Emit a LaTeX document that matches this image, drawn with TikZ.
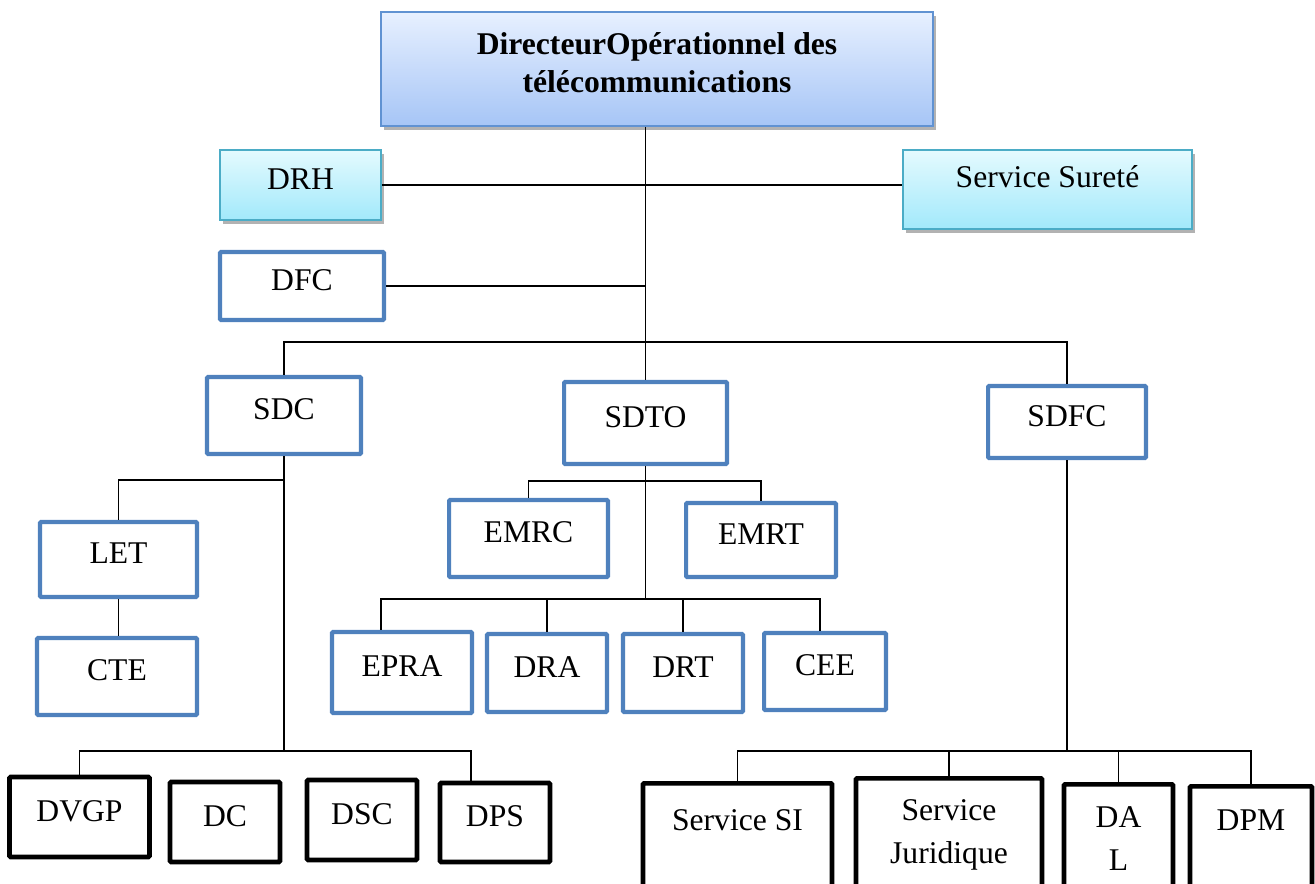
\documentclass[tikz,border=0pt]{standalone}
\usepackage{fontspec}
\setmainfont{Liberation Serif}
\usetikzlibrary{positioning}
\usetikzlibrary{calc}
\usetikzlibrary{shadows}

\definecolor{dirtop}{RGB}{231,240,255}
\definecolor{dirbot}{RGB}{166,197,246}
\definecolor{dirline}{RGB}{96,146,210}
\definecolor{cyantop}{RGB}{228,250,254}
\definecolor{cyanbot}{RGB}{162,233,251}
\definecolor{cyanline}{RGB}{75,172,198}
\definecolor{unitblue}{RGB}{79,129,189}

\begin{document}
\begin{tikzpicture}[x=0.02cm, y=-0.02cm,
    txt/.style={font=\fontsize{18}{24.5}\selectfont, align=center, inner sep=0pt, text height=12pt, text depth=7pt},
    softshadow/.style={drop shadow={shadow xshift=1.5pt, shadow yshift=-2.5pt, fill=black, opacity=0.3}},
    headbox/.style={txt, font=\fontsize{18}{22}\selectfont\bfseries, rectangle, draw=dirline, line width=0.9pt, top color=dirtop, bottom color=dirbot, softshadow},
    staffbox/.style={txt, rectangle, draw=cyanline, line width=0.9pt, top color=cyantop, bottom color=cyanbot, softshadow},
    unitbox/.style={txt, rectangle, draw=unitblue, fill=white, line width=2.3pt, rounded corners=0.6pt},
    basebox/.style={txt, rectangle, draw=black, fill=white, line width=2.6pt, rounded corners=0.6pt},
    cutbox/.style={basebox, anchor=north},
    conn/.style={draw=black, line width=0.8pt}
]
    \clip (0,0) rectangle (1315,884);

    % Direction
    \node[headbox, minimum width=11.04cm, minimum height=2.28cm, text height=34pt] (DOT) at (657,69) {DirecteurOpérationnel des\\télécommunications};
    \node[staffbox, minimum width=3.22cm, minimum height=1.4cm] (DRH) at (300.5,185) {DRH};
    \node[staffbox, minimum width=5.78cm, minimum height=1.58cm, text depth=14pt] (SUR) at (1047.5,189.5) {Service Sureté};
    \node[unitbox, minimum width=3.28cm, minimum height=1.36cm] (DFC) at (302,286) {DFC};

    % Sous-directions
    \node[unitbox, minimum width=3.08cm, minimum height=1.54cm] (SDC) at (284,415.5) {SDC};
    \node[unitbox, minimum width=3.26cm, minimum height=1.64cm] (SDTO) at (645.5,423) {SDTO};
    \node[unitbox, minimum width=3.16cm, minimum height=1.44cm] (SDFC) at (1067,422) {SDFC};

    % Branche SDC
    \node[unitbox, minimum width=3.14cm, minimum height=1.5cm] (LET) at (118.5,559.5) {LET};
    \node[unitbox, minimum width=3.2cm, minimum height=1.54cm] (CTE) at (117,676.5) {CTE};
    \node[basebox, minimum width=2.8cm, minimum height=1.6cm] (DVGP) at (79.5,817) {DVGP};
    \node[basebox, minimum width=2.2cm, minimum height=1.6cm] (DC) at (225,822) {DC};
    \node[basebox, minimum width=2.2cm, minimum height=1.6cm] (DSC) at (362,820) {DSC};
    \node[basebox, minimum width=2.2cm, minimum height=1.58cm] (DPS) at (495,822.5) {DPS};

    % Branche SDTO
    \node[unitbox, minimum width=3.18cm, minimum height=1.54cm] (EMRC) at (528.5,538.5) {EMRC};
    \node[unitbox, minimum width=3.0cm, minimum height=1.48cm] (EMRT) at (761,540) {EMRT};
    \node[unitbox, minimum width=2.8cm, minimum height=1.62cm] (EPRA) at (402,672.5) {EPRA};
    \node[unitbox, minimum width=2.4cm, minimum height=1.56cm] (DRA) at (547,673) {DRA};
    \node[unitbox, minimum width=2.4cm, minimum height=1.56cm] (DRT) at (683,673) {DRT};
    \node[unitbox, minimum width=2.44cm, minimum height=1.54cm] (CEE) at (825,671.5) {CEE};

    % Branche SDFC
    \node[cutbox, minimum width=3.78cm, text height=0.94cm, text depth=2.04cm] (SSI) at (737.5,781) {Service SI};
    \node[cutbox, minimum width=3.72cm, text height=1.7cm, text depth=1.38cm] (SJU) at (949,776) {Service\\Juridique};
    \node[cutbox, minimum width=2.18cm, text height=1.72cm, text depth=1.24cm] (DAL) at (1118.5,782) {DA\\L};
    \node[cutbox, minimum width=2.44cm, text height=0.88cm, text depth=2.04cm] (DPM) at (1251,784) {DPM};

    % Liaisons
    \coordinate (bus) at (645.5,342);
    \coordinate (letj) at (284,480);
    \coordinate (busL) at (284,751);
    \coordinate (dpsdrop) at (471,751);
    \coordinate (emj) at (645.5,481);
    \coordinate (busM) at (645.5,599);
    \coordinate (epradrop) at (381,599);
    \coordinate (ceedrop) at (820,599);
    \coordinate (busR) at (1065,751);

    \draw[conn] (DOT.south -| SDTO.north) -- (SDTO.north);
    \draw[conn] (DRH.east) -- (DRH.east -| SUR.west);
    \draw[conn] (DFC.east) -- (DFC.east -| SDTO.north);
    \draw[conn] (SDC.north) |- (bus) -| (SDFC.north);

    \draw[conn] (SDC.south) -- (busL);
    \draw[conn] (letj) -| (LET.north);
    \draw[conn] (LET.south) -- (LET.south |- CTE.north);
    \draw[conn] (DVGP.north) |- (dpsdrop) -- (dpsdrop |- DPS.north);

    \draw[conn] (SDTO.south) -- (busM);
    \draw[conn] (EMRC.north) |- (emj) -| (EMRT.north);
    \draw[conn] (epradrop |- EPRA.north) -- (epradrop) -- (ceedrop) -- (ceedrop |- CEE.north);
    \draw[conn] (DRA.north) -- (DRA.north |- busM);
    \draw[conn] (DRT.north) -- (DRT.north |- busM);

    \draw[conn] (SDFC.south) -- (SDFC.south |- busR);
    \draw[conn] (SSI.north) |- (busR) -| (DPM.north);
    \draw[conn] (SJU.north) -- (SJU.north |- busR);
    \draw[conn] (DAL.north) -- (DAL.north |- busR);
\end{tikzpicture}
\end{document}
